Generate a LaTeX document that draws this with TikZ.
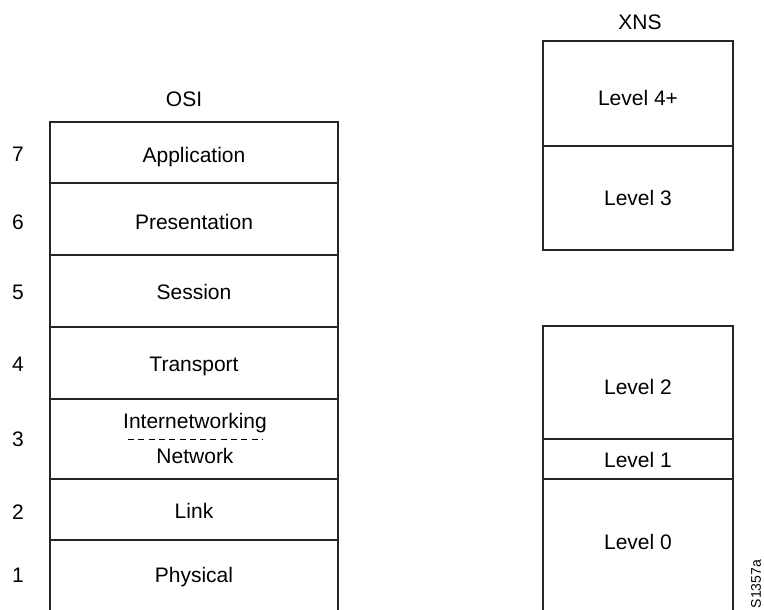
\documentclass[tikz,border=0pt]{standalone}
\usepackage{fontspec}
\setmainfont{Liberation Sans}
\begin{document}
\begin{tikzpicture}[x=1pt,y=-1pt,
  layer/.style={draw=black!85, line width=1.1pt, rectangle, inner sep=0pt,
    text height=20pt, text depth=0pt, font=\fontsize{21}{25}\selectfont},
  osibox/.style={layer, minimum width=288pt},
  xnsbox/.style={layer, minimum width=190pt},
  lbl/.style={inner sep=0pt, font=\fontsize{21}{25}\selectfont},
  num/.style={inner sep=0pt, font=\fontsize{21}{25}\selectfont}]
\useasboundingbox (0,0) rectangle (764,610);
% headings
\node[lbl] (osi) at (184,99.5) {OSI};
\node[lbl] (xns) at (640,22) {XNS};
% OSI stack
\node[osibox, minimum height=61pt, text height=19pt] (app)  at (194,152.5) {Application};
\node[osibox, minimum height=72pt, text height=21pt] (pres) at (194,219) {Presentation};
\node[osibox, minimum height=72pt, text height=17pt] (sess) at (194,291) {Session};
\node[osibox, minimum height=72pt, text height=16pt] (trans) at (194,363) {Transport};
\node[osibox, minimum height=80pt] (net)  at (194,439) {};
\node[osibox, minimum height=61pt, text height=17pt] (link) at (194,509.5) {Link};
\node[osibox, minimum height=74pt, text height=10pt] (phys) at (194,577) {Physical};
\node[lbl] (iw) at (195,423) {Internetworking};
\node[lbl] (nw) at (195,455.5) {Network};
\coordinate (d1) at (128,439);
\coordinate (d2) at (262,439);
\draw[line width=0.9pt, dash pattern=on 6pt off 4.3pt] (d1) -- (d2);
% layer numbers
\node[num] (n7) at (18,154.5) {7};
\node[num] (n6) at (18,222.5) {6};
\node[num] (n5) at (18,292.5) {5};
\node[num] (n4) at (18,364) {4};
\node[num] (n3) at (18,439.5) {3};
\node[num] (n2) at (18,512) {2};
\node[num] (n1) at (18,575.5) {1};
% XNS stack
\node[xnsbox, minimum height=105pt, text height=24pt] (l4) at (638,93.5) {Level 4+};
\node[xnsbox, minimum height=104pt, text height=15pt] (l3) at (638,198) {Level 3};
\node[xnsbox, minimum height=113pt, text height=24pt] (l2) at (638,382.5) {Level 2};
\node[xnsbox, minimum height=40pt, text height=16pt]  (l1) at (638,459) {Level 1};
\node[xnsbox, minimum height=134pt, text height=6pt] (l0) at (638,546) {Level 0};
% figure id
\node[inner sep=0pt, rotate=90, font=\fontsize{14}{17}\selectfont] (fig) at (756,584) {S1357a};
\end{tikzpicture}
\end{document}
